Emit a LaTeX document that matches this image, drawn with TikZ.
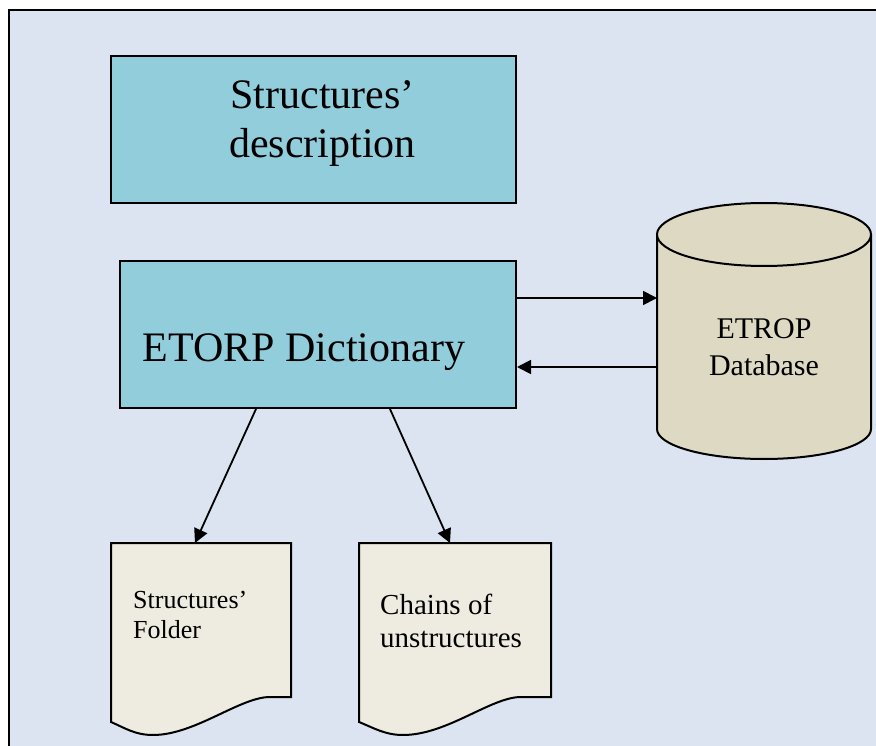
\documentclass[tikz,border=0pt]{standalone}
\usepackage{fontspec}
\setmainfont{Liberation Serif}
\usetikzlibrary{arrows.meta,calc}
\definecolor{framebg}{HTML}{DBE4F0}
\definecolor{boxfill}{HTML}{92CDDC}
\definecolor{dbfill}{HTML}{DDD9C3}
\definecolor{docfill}{HTML}{EEECE1}
\tikzset{
  box/.style={draw=black, line width=2pt, fill=boxfill, inner sep=0pt},
  hidden/.style={inner sep=0pt, outer sep=0pt},
  doc/.style={draw=black, line width=2pt, fill=docfill},
  arr/.style={line width=1.8pt, -{Triangle[length=14pt,width=14pt]}},
  txt/.style={inner sep=0pt, align=center}
}
\begin{document}
\begin{tikzpicture}[x=1pt,y=-1pt]
\useasboundingbox (0,0) rectangle (876,746);
% frame
\draw[line width=2.5pt, fill=framebg] (9,10) rectangle (900,770);
% box 1
\node[box, minimum width=405pt, minimum height=147pt] (desc) at (313.5,129.5) {};
\node[txt, font=\fontsize{42}{49}\selectfont] (desctxt) at (322.5,124) {Structures’\\description};
% box 2
\node[box, minimum width=396pt, minimum height=147pt] (dict) at (318,334.5) {};
\node[txt, font=\fontsize{42}{49}\selectfont, anchor=base] (dicttxt) at (304,361) {ETORP Dictionary};
% cylinder
\fill[dbfill] (764,429) ellipse [x radius=107pt, y radius=30pt];
\fill[dbfill] (657,234.5) rectangle (871,429);
\draw[line width=2pt] (657,234.5) -- (657,429) arc[start angle=180, end angle=360, x radius=107pt, y radius=30pt] -- (871,234.5);
\filldraw[fill=dbfill, draw=black, line width=2pt] (764,234.5) ellipse [x radius=107pt, y radius=31.5pt];
\node[hidden, minimum width=214pt, minimum height=256pt] (db) at (764,331) {};
\node[txt, font=\fontsize{30}{37}\selectfont] (dbtxt) at (764,347) {ETROP\\Database};
% documents
\node[hidden, minimum width=180pt, minimum height=192pt, anchor=north west] (doc1) at (111,543) {};
\filldraw[doc] (doc1.north west) -- (doc1.north east) -- ($(doc1.north west)+(180,154)$) -- ($(doc1.north west)+(159,154)$)
  .. controls ($(doc1.north west)+(129,154)$) and ($(doc1.north west)+(84,192)$) .. ($(doc1.north west)+(42,192)$)
  .. controls ($(doc1.north west)+(24,192)$) and ($(doc1.north west)+(14,185)$) .. ($(doc1.north west)+(0,179)$) -- cycle;
\node[txt, align=left, anchor=north west, font=\fontsize{26}{30}\selectfont] (doc1txt) at (133,591) {Structures’\\Folder};
\node[hidden, minimum width=192pt, minimum height=192pt, anchor=north west] (doc2) at (359,543) {};
\filldraw[doc] (doc2.north west) -- (doc2.north east) -- ($(doc2.north west)+(192,154)$) -- ($(doc2.north west)+(162,154)$)
  .. controls ($(doc2.north west)+(132,154)$) and ($(doc2.north west)+(88,192)$) .. ($(doc2.north west)+(44,192)$)
  .. controls ($(doc2.north west)+(26,192)$) and ($(doc2.north west)+(15,185)$) .. ($(doc2.north west)+(0,179)$) -- cycle;
\node[txt, align=left, anchor=north west, font=\fontsize{29}{33}\selectfont] (doc2txt) at (380,594) {Chains of\\unstructures};
% connectors
\draw[arr] (dict.east |- 0,298) -- (db.west |- 0,298);
\draw[arr] (db.west |- 0,367) -- (dict.east |- 0,367);
\draw[arr] (dict.south -| 256,0) -- (doc1.north -| 195,0);
\draw[arr] (dict.south -| 390,0) -- (doc2.north -| 450,0);
\end{tikzpicture}
\end{document}
